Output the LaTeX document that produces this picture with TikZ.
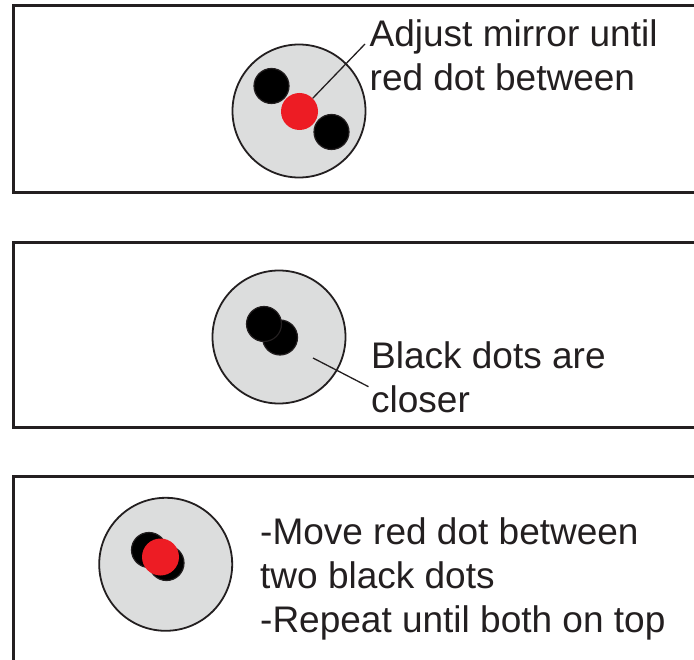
\documentclass[tikz,border=0pt]{standalone}
\usepackage{fontspec}
\setmainfont{Liberation Sans}
\definecolor{inkgray}{HTML}{231F20}
\definecolor{dotred}{HTML}{ED1C24}
\definecolor{plategray}{HTML}{DCDDDD}
\tikzset{
	panel/.style={draw=inkgray, line width=3pt},
	target/.style={circle, draw=inkgray, line width=1.8pt, fill=plategray, minimum size=133pt, inner sep=0pt},
	blackdot/.style={circle, draw=inkgray, line width=1.2pt, fill=black, minimum size=35pt, inner sep=0pt},
	reddot/.style={circle, fill=dotred, minimum size=37pt, inner sep=0pt},
	hint/.style={align=left, anchor=base west, inner sep=0pt, text=inkgray, font=\fontsize{37}{44}\selectfont},
	leader/.style={draw=inkgray, line width=1.3pt}
}
\begin{document}
\begin{tikzpicture}[x=1pt, y=-1pt]
	\clip (0,0) rectangle (694,660);
	\fill[white] (0,0) rectangle (694,660);
	% oben: roter Punkt zwischen den schwarzen
	\draw[panel] (13,6) rectangle (720,193);
	\node[target] (plateA) at (299,111) {};
	\node[blackdot] (blackA1) at (271.5,86) {};
	\node[blackdot] (blackA2) at (331.5,132) {};
	\node[reddot] (redA) at (299.5,111.5) {};
	\node[hint] (adjust) at (369.5,90.7) {Adjust mirror until\\red dot between};
	\draw[leader] (redA.45) -- ([xshift=-4.5pt,yshift=46.7pt]adjust.base west);
	% mitte: schwarze Punkte naeher
	\draw[panel] (13,243) rectangle (720,428);
	\node[target] (plateB) at (279,337) {};
	\node[blackdot] (blackB2) at (280,337.5) {};
	\node[blackdot] (blackB1) at (264,324) {};
	\coordinate (spotB) at (313,358);
	\node[hint] (closer) at (371,413) {Black dots are\\closer};
	\draw[leader] (spotB) -- ([xshift=-2.5pt,yshift=26.3pt]closer.base west);
	% unten: alles uebereinander
	\draw[panel] (13,476) rectangle (720,700);
	\node[target] (plateC) at (165.7,564.3) {};
	\node[blackdot] (blackC1) at (149,550) {};
	\node[blackdot] (blackC2) at (166.5,563) {};
	\node[reddot] (redC) at (160.5,557) {};
	\node[hint] (repeat) at (260,632.7) {-Move red dot between\\two black dots\\-Repeat until both on top};
\end{tikzpicture}
\end{document}
